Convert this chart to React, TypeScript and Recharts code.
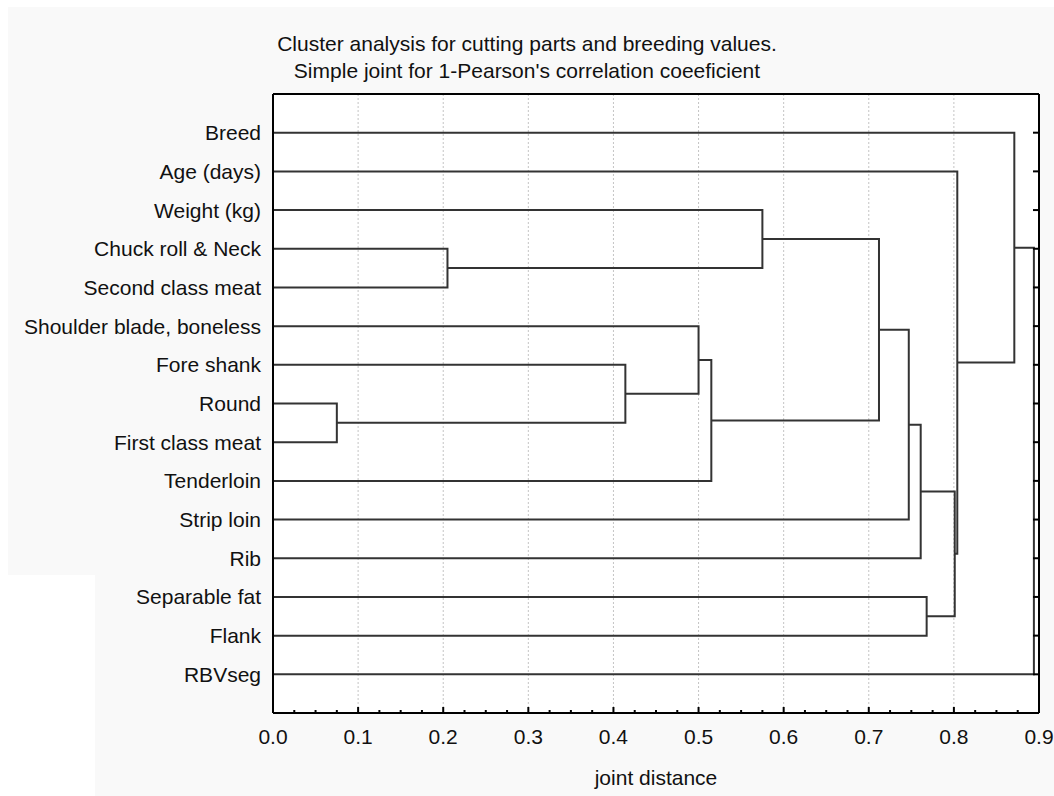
import React from "react";
import { ComposedChart, Line, XAxis, YAxis, CartesianGrid } from "recharts";

const FONT = "'Liberation Sans', Arial, Helvetica, sans-serif";

// Leaf labels, top to bottom
const labels = [
  "Breed",
  "Age (days)",
  "Weight (kg)",
  "Chuck roll & Neck",
  "Second class meat",
  "Shoulder blade, boneless",
  "Fore shank",
  "Round",
  "First class meat",
  "Tenderloin",
  "Strip loin",
  "Rib",
  "Separable fat",
  "Flank",
  "RBVseg",
];

// Merge steps: leaves are 0..14, cluster created at step k is 15 + k
const mergeLeft = [7, 3, 6, 5, 18, 2, 20, 21, 22, 12, 23, 1, 0, 27];
const mergeRight = [8, 4, 15, 17, 9, 16, 19, 10, 11, 13, 24, 25, 26, 14];
const mergeHeight = [0.075, 0.205, 0.414, 0.5, 0.515, 0.575, 0.712, 0.747, 0.761, 0.768, 0.801, 0.804, 0.871, 0.894];

const majorTicks = [0, 0.1, 0.2, 0.3, 0.4, 0.5, 0.6, 0.7, 0.8, 0.9];
const minorTicks = [
  0, 0.025, 0.05, 0.075, 0.1, 0.125, 0.15, 0.175, 0.2, 0.225, 0.25, 0.275, 0.3, 0.325, 0.35, 0.375,
  0.4, 0.425, 0.45, 0.475, 0.5, 0.525, 0.55, 0.575, 0.6, 0.625, 0.65, 0.675, 0.7, 0.725, 0.75, 0.775,
  0.8, 0.825, 0.85, 0.875, 0.9,
];
const rowTicks = [1, 2, 3, 4, 5, 6, 7, 8, 9, 10, 11, 12, 13, 14, 15];

type Pt = { x: number; y: number };

function buildSegments(): Pt[][] {
  const nodes: Pt[] = labels.map((_, i) => ({ x: 0, y: i + 1 }));
  const segs: Pt[][] = [];
  mergeHeight.forEach((h, k) => {
    const a = nodes[mergeLeft[k]];
    const b = nodes[mergeRight[k]];
    segs.push([
      { x: a.x, y: a.y },
      { x: h, y: a.y },
      { x: h, y: b.y },
      { x: b.x, y: b.y },
    ]);
    nodes.push({ x: h, y: (a.y + b.y) / 2 });
  });
  return segs;
}

const segments = buildSegments();

const isMajor = (v: number) => majorTicks.some((m) => Math.abs(m - v) < 1e-6);

const BottomTick = (props: any) => {
  const { x, y, payload } = props;
  const v = payload.value as number;
  const major = isMajor(v);
  return (
    <g>
      <line x1={x} x2={x} y1={y} y2={y - (major ? 6 : 3)} stroke="#000" strokeWidth={2} />
      {major && (
        <text x={x} y={y + 16} dy="0.71em" textAnchor="middle" fontSize={21} fill="#111" fontFamily={FONT}>
          {v.toFixed(1)}
        </text>
      )}
    </g>
  );
};

const TopTick = (props: any) => {
  const { x, y, payload } = props;
  const major = isMajor(payload.value as number);
  return <line x1={x} x2={x} y1={y} y2={y + (major ? 6 : 3)} stroke="#000" strokeWidth={2} />;
};

const RightTick = (props: any) => {
  const { x, y } = props;
  return <line x1={x} x2={x - 6} y1={y} y2={y} stroke="#000" strokeWidth={2} />;
};

const tickFont = { fontSize: 21, fill: "#111", fontFamily: FONT };

export default function App() {
  return (
    <div style={{ position: "absolute", left: 0, top: 0, width: 1054, height: 796, background: "#fff", overflow: "hidden" }}>
      <div style={{ position: "absolute", left: 8, top: 7, width: 1046, height: 568, background: "#f9f9f9" }} />
      <div style={{ position: "absolute", left: 95, top: 575, width: 959, height: 221, background: "#f9f9f9" }} />
      <div
        style={{
          position: "absolute",
          left: 527,
          top: 30,
          transform: "translateX(-50%)",
          fontFamily: FONT,
          fontSize: 21,
          lineHeight: "27px",
          color: "#111",
          textAlign: "center",
          whiteSpace: "nowrap",
        }}
      >
        <div>Cluster analysis for cutting parts and breeding values.</div>
        <div>Simple joint for 1-Pearson's correlation coeeficient</div>
      </div>
      <div style={{ position: "absolute", left: 0, top: 0 }}>
        <ComposedChart width={1054} height={796} margin={{ top: 93, right: 14, bottom: 0, left: 0 }}>
          <CartesianGrid
            horizontal={false}
            xAxisId="b"
            yAxisId="l"
            verticalValues={majorTicks}
            stroke="#c4c4c4"
            strokeDasharray="2 2"
            fill="#ffffff"
          />
          <XAxis
            xAxisId="b"
            type="number"
            dataKey="x"
            domain={[0, 0.9]}
            ticks={minorTicks}
            interval={0}
            orientation="bottom"
            height={83}
            allowDataOverflow
            tickLine={false}
            tickSize={0}
            tickMargin={0}
            axisLine={{ stroke: "#000", strokeWidth: 2 }}
            tick={BottomTick}
            label={{
              value: "joint distance",
              position: "insideBottom",
              offset: 11,
              fontSize: 21,
              fill: "#111",
              fontFamily: FONT,
            }}
          />
          <XAxis
            xAxisId="t"
            type="number"
            domain={[0, 0.9]}
            ticks={minorTicks}
            interval={0}
            orientation="top"
            height={1}
            allowDataOverflow
            tickLine={false}
            tickSize={0}
            tickMargin={0}
            tick={TopTick}
            axisLine={{ stroke: "#000", strokeWidth: 2 }}
          />
          <YAxis
            yAxisId="l"
            type="number"
            dataKey="y"
            domain={[0, 16]}
            reversed
            ticks={rowTicks}
            interval={0}
            width={273}
            allowDataOverflow
            tickLine={false}
            tickSize={6}
            tickMargin={6}
            axisLine={{ stroke: "#000", strokeWidth: 2 }}
            tick={tickFont}
            tickFormatter={(v: number) => labels[v - 1] ?? ""}
          />
          <YAxis
            yAxisId="r"
            type="number"
            domain={[0, 16]}
            reversed
            ticks={rowTicks}
            interval={0}
            orientation="right"
            width={1}
            allowDataOverflow
            tickLine={false}
            tickSize={0}
            tickMargin={0}
            tick={RightTick}
            axisLine={{ stroke: "#000", strokeWidth: 2 }}
          />
          {segments.map((seg, i) => (
            <Line
              key={i}
              data={seg}
              dataKey="y"
              xAxisId="b"
              yAxisId="l"
              type="linear"
              stroke="#333"
              strokeWidth={2}
              dot={false}
              activeDot={false}
              isAnimationActive={false}
            />
          ))}
        </ComposedChart>
      </div>
    </div>
  );
}
